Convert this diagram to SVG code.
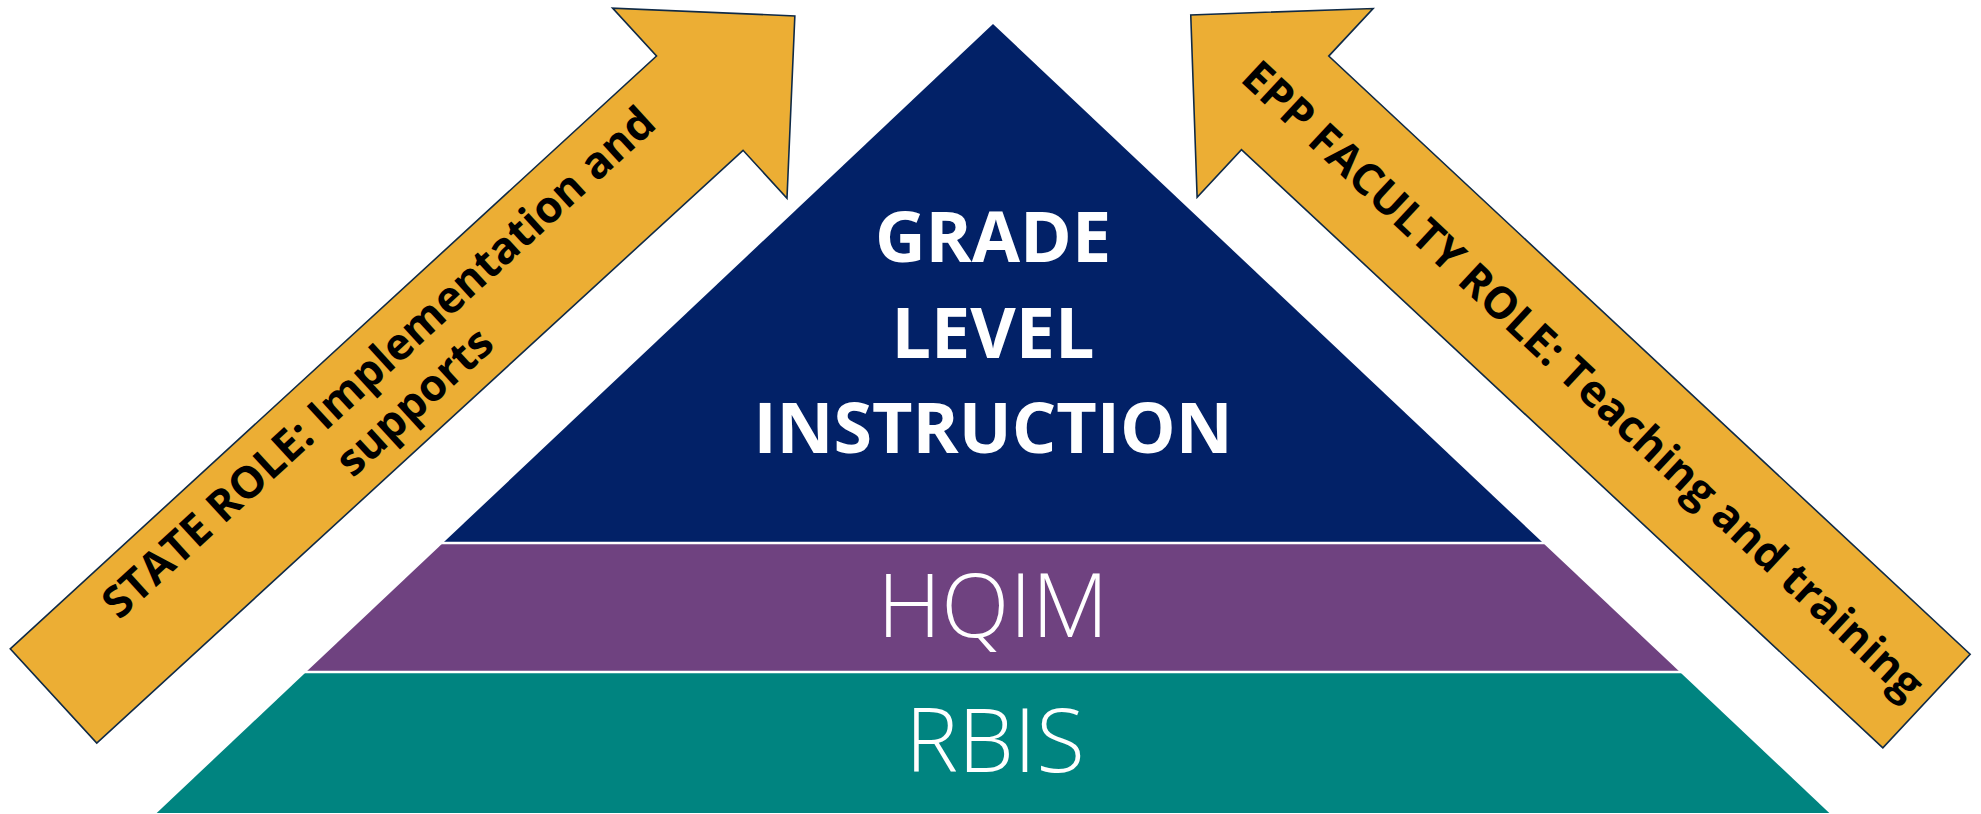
<svg xmlns="http://www.w3.org/2000/svg" width="1981" height="814" viewBox="0 0 1981 814">
  <style>
    .role { fill: #ECAE34; stroke: #0F2A47; stroke-width: 1.6; stroke-linejoin: miter; }
    .role-text { font-family: "Open Sans", "Liberation Sans", sans-serif; font-weight: 700; font-size: 44px; fill: #000000; text-anchor: middle; }
    .tier-bold { font-family: "Open Sans", "Liberation Sans", sans-serif; font-weight: 700; font-size: 70px; fill: #FFFFFF; text-anchor: middle; }
    .tier-light { font-family: "Open Sans", "Liberation Sans", sans-serif; font-weight: 300; font-size: 89px; fill: #FFFFFF; text-anchor: middle; }
    .divider { stroke: #FFFFFF; stroke-width: 2.5; }
  </style>
  <defs>
    <!-- block arrow along +x: shaft 0..877 (half-width 64), head to 1006 (half-width 129) -->
    <polygon id="role-arrow" points="0,-64 877,-64 877,-129 1006,0 877,129 877,64 0,64"/>
  </defs>

  <rect width="1981" height="814" fill="#FFFFFF"/>

  <!-- pyramid tiers -->
  <g id="node-grade-level-instruction">
    <polygon points="993,24 1543.1,543 442.9,543" fill="#022167"/>
    <text class="tier-bold" x="993" y="262">GRADE</text>
    <text class="tier-bold" x="993" y="358">LEVEL</text>
    <text class="tier-bold" x="993" y="453">INSTRUCTION</text>
  </g>
  <g id="node-hqim">
    <polygon points="442.9,543 1543.1,543 1679.9,672 306.1,672" fill="#6F4280"/>
    <text class="tier-light" x="993" y="637">HQIM</text>
  </g>
  <g id="node-rbis">
    <polygon points="306.1,672 1679.9,672 1829.3,813 156.7,813" fill="#008480"/>
    <text class="tier-light" x="995" y="772">RBIS</text>
  </g>
  <g id="tier-dividers">
    <line class="divider" x1="430" y1="543" x2="1556" y2="543"/>
    <line class="divider" x1="294" y1="672" x2="1692" y2="672"/>
  </g>

  <!-- side role arrows -->
  <g id="node-state-role">
    <use href="#role-arrow" class="role" transform="translate(53.5 696) rotate(-42.53)"/>
    <g transform="translate(53.5 696) rotate(-42.53)">
      <text class="role-text" x="465" y="-11">STATE ROLE: Implementation and</text>
      <text class="role-text" x="465" y="42">supports</text>
    </g>
  </g>
  <g id="node-epp-faculty-role">
    <use href="#role-arrow" class="role" transform="translate(1926.5 701) rotate(-137)"/>
    <text class="role-text" transform="translate(1582.8 380.4) rotate(43)" x="0" y="15">EPP FACULTY ROLE: Teaching and training</text>
  </g>
</svg>
